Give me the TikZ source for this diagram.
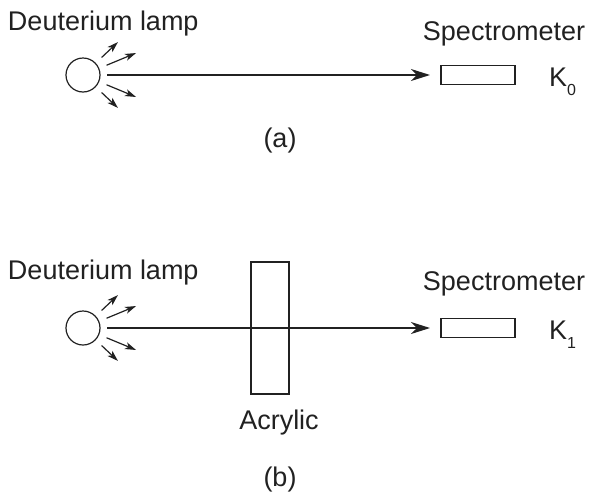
\documentclass[tikz,border=0pt]{standalone}
\usepackage{fontspec}
\setmainfont{Liberation Sans}
\usepackage{xcolor}
\usetikzlibrary{arrows.meta, calc, positioning}
\definecolor{inkline}{gray}{0.13}
\tikzset{
	label/.style={text=inkline, inner sep=0pt, outer sep=0pt, font=\fontsize{27}{27}\selectfont},
	lamp/.style={circle, draw=inkline, line width=1.2pt, minimum size=34pt, inner sep=0pt, outer sep=0pt},
	detector/.style={rectangle, draw=inkline, line width=1.5pt, minimum width=74pt, minimum height=19pt, inner sep=0pt, outer sep=0pt},
	sample/.style={rectangle, draw=inkline, line width=1.5pt, minimum width=38pt, minimum height=132pt, inner sep=0pt, outer sep=0pt},
	beam/.style={draw=inkline, line width=1.3pt, shorten <=7pt, shorten >=11pt, -{Stealth[length=19pt,width=12pt,inset=6pt]}},
	ray/.style={draw=inkline, line width=1.2pt, shorten <=8.5pt, -{Stealth[length=11pt,width=7pt,inset=3pt]}}
}
\newcommand{\ksub}[1]{K\raisebox{-9pt}{\fontsize{16}{16}\selectfont #1}}

\begin{document}
\begin{tikzpicture}[x=1pt, y=-1pt]
	\useasboundingbox (0,0) rectangle (589,496);
	\foreach \panel/\ypos/\kidx/\ylamp/\yspec in {a/75/0/24/34, b/328/1/273/284} {
		\node[lamp] (lamp\panel) at (83,\ypos) {};
		\node[detector] (spec\panel) at (478,\ypos) {};
		\node[label, anchor=west] (lamptext\panel) at (8,\ylamp) {Deuterium lamp};
		\node[label] (spectext\panel) at (504,\yspec) {Spectrometer};
		\node[label, anchor=base west] (ktext\panel) at (549,\ypos+11) {\ksub{\kidx}};
		\foreach \ang/\len [count=\i] in {43.3/48, 22.5/57.4, -22.5/57.4, -43.3/48} {
			\coordinate (rayend\panel\i) at ($(lamp\panel)+(\ang:\len)$);
			\draw[ray] (lamp\panel) -- (rayend\panel\i);
		}
	}
	\node[sample] (acrylic) at (270,328) {};
	\draw[beam] (lampa) -- (speca);
	\draw[beam] (lampb) -- (specb);
	\node[label] (acrylictext) at (279,423) {Acrylic};
	\node[label] (capa) at (280,141) {(a)};
	\node[label] (capb) at (280,480) {(b)};
\end{tikzpicture}
\end{document}
